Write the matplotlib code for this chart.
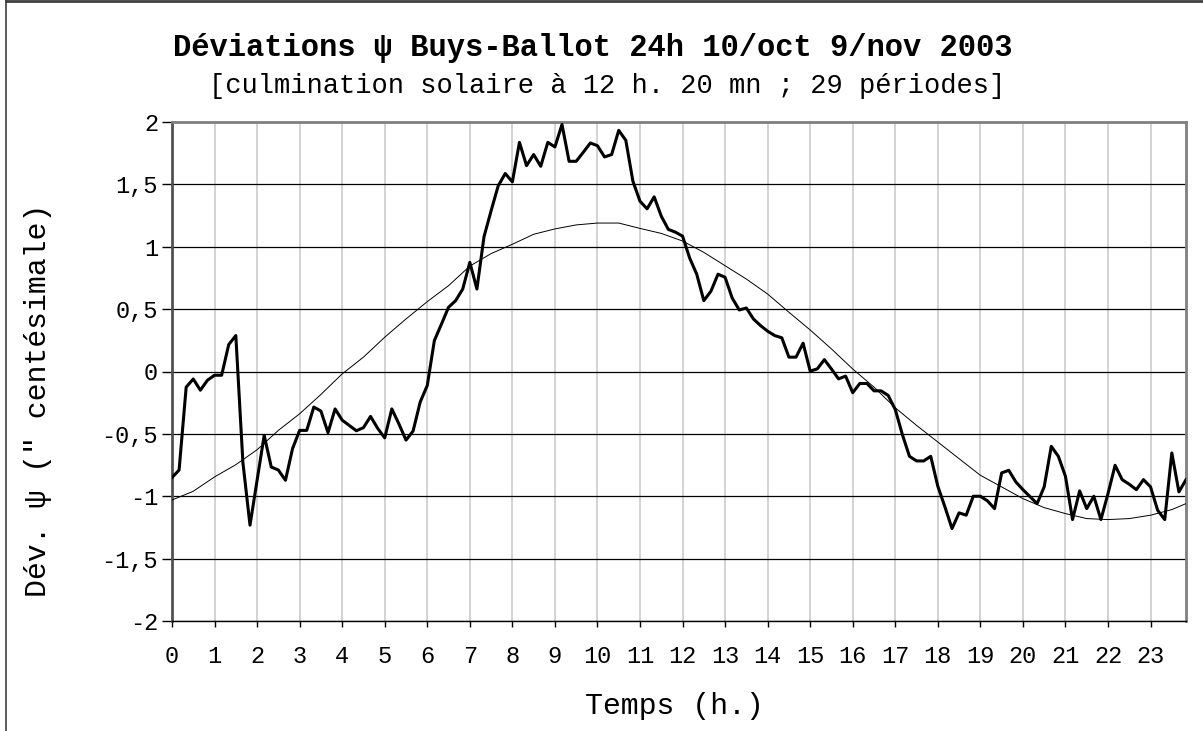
import numpy as np
import matplotlib
matplotlib.use("Agg")
import matplotlib.pyplot as plt
from matplotlib.lines import Line2D

# 10-minute bins over 24 h (144 values), psi deviation in centesimal seconds
minutes = np.arange(0, 1440, 10)
dev_psi = [
    -0.85, -0.79, -0.125, -0.06, -0.15, -0.07, -0.03, -0.03, 0.216, 0.288,
    -0.73, -1.232, -0.872, -0.512, -0.766, -0.79, -0.872, -0.618, -0.472, -0.472,
    -0.285, -0.317, -0.49, -0.30, -0.39, -0.432, -0.475, -0.45, -0.36, -0.455,
    -0.532, -0.30, -0.42, -0.55, -0.477, -0.245, -0.112, 0.248, 0.38, 0.515,
    0.568, 0.661, 0.875, 0.661, 1.08, 1.288, 1.488, 1.587, 1.52, 1.837,
    1.65, 1.739, 1.645, 1.837, 1.80, 1.98, 1.685, 1.685, 1.757, 1.832,
    1.81, 1.72, 1.739, 1.933, 1.853, 1.525, 1.365, 1.304, 1.40, 1.245,
    1.139, 1.117, 1.085, 0.91, 0.78, 0.568, 0.643, 0.78, 0.755, 0.589,
    0.493, 0.509, 0.421, 0.368, 0.323, 0.288, 0.27, 0.115, 0.115, 0.227,
    0.003, 0.021, 0.095, 0.02, -0.059, -0.037, -0.17, -0.096, -0.096, -0.155,
    -0.155, -0.192, -0.305, -0.505, -0.68, -0.717, -0.717, -0.68, -0.92, -1.085,
    -1.259, -1.133, -1.152, -1.0, -1.0, -1.037, -1.099, -0.813, -0.792, -0.885,
    -0.947, -1.003, -1.059, -0.925, -0.6, -0.68, -0.84, -1.187, -0.957, -1.099,
    -1.0, -1.187, -0.979, -0.752, -0.867, -0.904, -0.947, -0.867, -0.925, -1.112,
    -1.187, -0.653, -0.965, -0.867,
]

# smooth fitted curve, read every half hour
fit_hours = [0, 0.5, 1, 1.5, 2, 2.5, 3, 3.5, 4, 4.5, 5, 5.5, 6, 6.5, 7, 7.5,
             8, 8.5, 9, 9.5, 10, 10.5, 11, 11.5, 12, 12.5, 13, 13.5, 14, 14.5,
             15, 15.5, 16, 16.5, 17, 17.5, 18, 18.5, 19, 19.5, 20, 20.5, 21,
             21.5, 22, 22.5, 23, 23.5, 23.833]
fit_psi = [-1.03, -0.96, -0.845, -0.747, -0.627, -0.472, -0.339, -0.184,
           -0.019, 0.115, 0.275, 0.421, 0.56, 0.688, 0.845, 0.945, 1.02, 1.10,
           1.143, 1.175, 1.19, 1.19, 1.147, 1.107, 1.046, 0.955, 0.848, 0.741,
           0.621, 0.475, 0.333, 0.181, 0.02, -0.125, -0.291, -0.432, -0.565,
           -0.699, -0.832, -0.925, -1.019, -1.091, -1.139, -1.179, -1.187,
           -1.179, -1.152, -1.107, -1.059]

hour_ticks = list(range(24))
y_ticks = [2, 1.5, 1, 0.5, 0, -0.5, -1, -1.5, -2]
y_labels = ["2", "1,5", "1", "0,5", "0", "-0,5", "-1", "-1,5", "-2"]

FONT = "Liberation Mono"
plt.rcParams["font.family"] = [FONT, "DejaVu Sans"]

fig = plt.figure(figsize=(12.03, 7.31), dpi=100)
ax = fig.add_axes([172 / 1203, 1 - 621 / 731, (1186 - 172) / 1203, (621 - 122) / 731])

hours = minutes / 60
ax.plot(fit_hours, fit_psi, color="black", lw=0.7, zorder=3)
ax.plot(hours, dev_psi, color="black", lw=2.2, zorder=4)

ax.set_xlim(0, hours[-1])
ax.set_ylim(-2, 2)
ax.set_xticks(hour_ticks)
ax.set_xticklabels([str(h) for h in hour_ticks], fontsize=17)
ax.set_yticks(y_ticks)
ax.set_yticklabels(y_labels, fontsize=17)
ax.tick_params(axis="x", direction="out", length=4, width=1, pad=13)
ax.tick_params(axis="y", direction="out", length=7, width=1, pad=3)

ax.xaxis.grid(True, color="#c8c8c8", lw=1.1)
ax.yaxis.grid(True, color="black", lw=0.9)
ax.set_axisbelow(True)

for side in ("top", "right", "left"):
    ax.spines[side].set_color("#808080")
    ax.spines[side].set_linewidth(2)
ax.spines["left"].set_color("#505050")
ax.spines["bottom"].set_color("black")
ax.spines["bottom"].set_linewidth(1)

fig.text(593 / 1203, 1 - 48 / 731, "Déviations ψ Buys-Ballot 24h 10/oct 9/nov 2003",
         ha="center", va="center", fontsize=22, fontweight="bold")
fig.text(607 / 1203, 1 - 86 / 731, "[culmination solaire à 12 h. 20 mn ; 29 périodes]",
         ha="center", va="center", fontsize=19.5)
fig.text(674 / 1203, 1 - 706 / 731, "Temps (h.)", ha="center", va="center", fontsize=21.5)
fig.text(38 / 1203, 1 - 400 / 731, "Dév. ψ (\" centésimale)", ha="center", va="center",
         rotation=90, fontsize=21.5)

# outer chart frame (cropped on right and bottom)
fig.add_artist(Line2D([6 / 1203, 6 / 1203], [0, 1], color="#404040", lw=1.2))
fig.add_artist(Line2D([6 / 1203, 1], [1 - 1 / 731, 1 - 1 / 731], color="#404040", lw=2))

fig.savefig("out.png", dpi=100)
